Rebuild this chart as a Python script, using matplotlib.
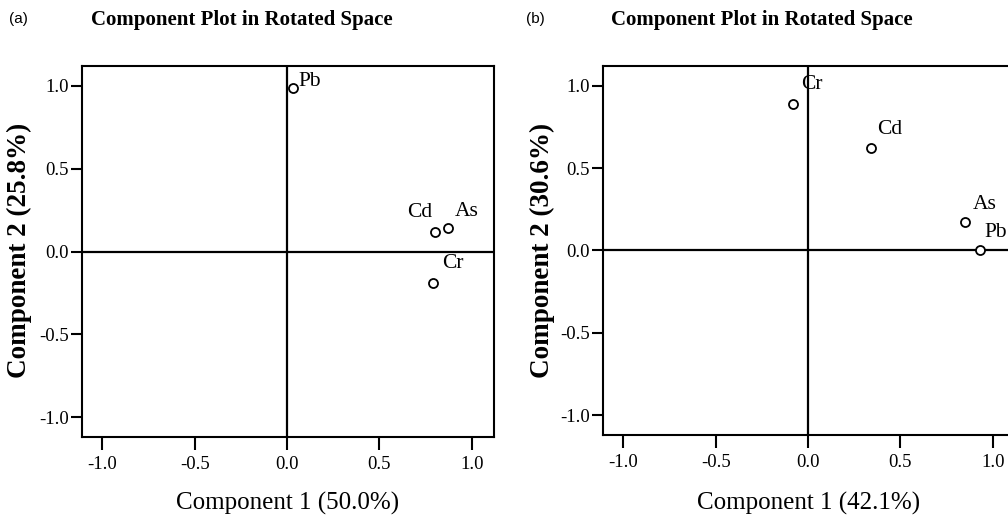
import matplotlib
matplotlib.use("Agg")
import matplotlib.pyplot as plt

# Data
labels_a = ["Pb", "Cd", "As", "Cr"]
comp1_a = [0.03, 0.80, 0.87, 0.79]
comp2_a = [0.99, 0.12, 0.14, -0.19]

labels_b = ["Cr", "Cd", "As", "Pb"]
comp1_b = [-0.08, 0.34, 0.85, 0.93]
comp2_b = [0.89, 0.62, 0.17, 0.00]

xlabel_a = "Component 1 (50.0%)"
ylabel_a = "Component 2 (25.8%)"
xlabel_b = "Component 1 (42.1%)"
ylabel_b = "Component 2 (30.6%)"
title = "Component Plot in Rotated Space"
ticks = [-1.0, -0.5, 0.0, 0.5, 1.0]
tick_labels = ["-1.0", "-0.5", "0.0", "0.5", "1.0"]

# label offsets in pixels (dx, dy, ha)
offs_a = [(6, 6, "left"), (-3, 19, "right"), (7, 17, "left"), (9, 19, "left")]
offs_b = [(8, 19, "left"), (6, 19, "left"), (8, 18, "left"), (5, 18, "left")]

serif = ["Liberation Serif", "DejaVu Serif"]

fig = plt.figure(figsize=(10.08, 5.19), dpi=100)
fig.patch.set_facecolor("white")

W = 1008.0
H = 519.0

def make_panel(left_px, bottom_px, right_px, top_px, xs, ys, labs, offs,
               xlabel, ylabel, tag, tag_x, title_cx, xlabel_cx, ylabel_x):
    ax = fig.add_axes([left_px / W, 1 - bottom_px / H,
                       (right_px - left_px) / W, (bottom_px - top_px) / H])
    ax.set_xlim(-1.11, 1.12)
    ax.set_ylim(-1.12, 1.12)
    for s in ax.spines.values():
        s.set_linewidth(1.5)
        s.set_color("black")
    ax.axhline(0, color="black", lw=1.6, zorder=1)
    ax.axvline(0, color="black", lw=1.6, zorder=1)
    ax.plot(xs, ys, linestyle="none", marker="o", markersize=6.5,
            markerfacecolor="white", markeredgecolor="black",
            markeredgewidth=1.3, zorder=3)
    for x, y, lab, (dx, dy, ha) in zip(xs, ys, labs, offs):
        ax.annotate(lab, (x, y), xytext=(dx, dy), textcoords="offset pixels",
                    ha=ha, va="center", fontsize=15.5, family=serif)
    ax.set_xticks(ticks)
    ax.set_yticks(ticks)
    ax.set_xticklabels(tick_labels, family=serif, fontsize=13.5)
    ax.set_yticklabels(tick_labels, family=serif, fontsize=13.5)
    ax.tick_params(axis="x", direction="out", length=9, width=1.5, pad=5)
    ax.tick_params(axis="y", direction="out", length=8, width=1.5, pad=1.5)
    fig.text(xlabel_cx / W, 1 - 503 / H, xlabel, ha="center", va="center",
             fontsize=18, family=serif)
    fig.text(ylabel_x / W, 1 - 250 / H, ylabel, ha="center", va="center",
             rotation=90, fontsize=19.5, fontweight="bold", family=serif)
    fig.text(tag_x / W, 1 - 19 / H, tag, ha="left", va="center",
             fontsize=11, family=["Liberation Sans", "DejaVu Sans"])
    fig.text(title_cx / W, 1 - 20 / H, title, ha="center", va="center",
             fontsize=15, fontweight="bold", family=serif)
    return ax

make_panel(82, 437, 494, 66, comp1_a, comp2_a, labels_a, offs_a,
           xlabel_a, ylabel_a, "(a)", 9, 242, 288, 19)
make_panel(603, 435, 1015, 66, comp1_b, comp2_b, labels_b, offs_b,
           xlabel_b, ylabel_b, "(b)", 526, 762, 809, 542)

fig.savefig("out.png", dpi=100, facecolor="white")
